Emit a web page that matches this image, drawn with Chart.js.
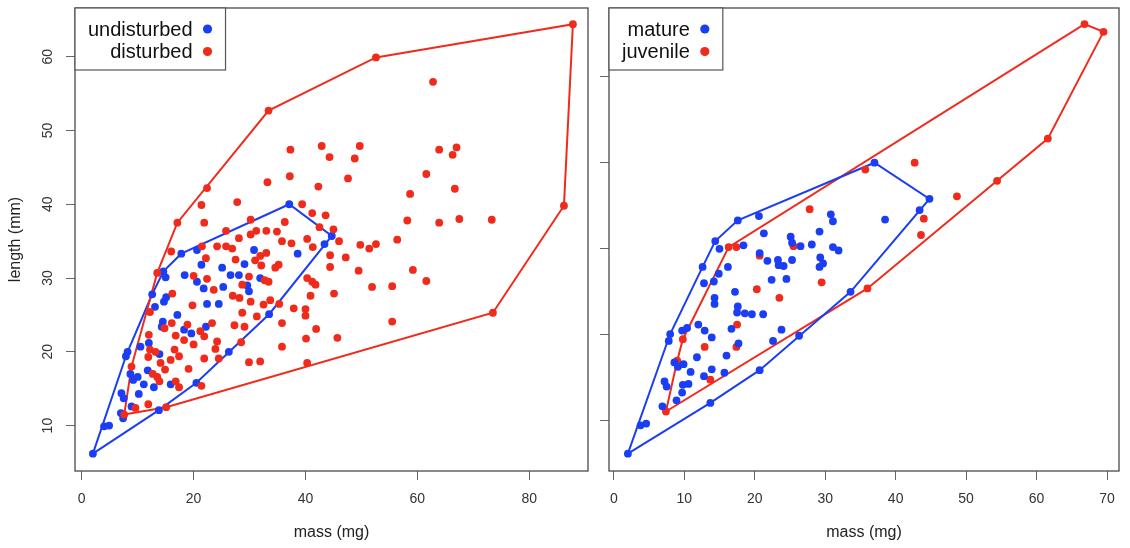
<!DOCTYPE html>
<html>
<head>
<meta charset="utf-8">
<script src="https://cdn.jsdelivr.net/npm/chart.js@4"></script>
<style>
  html, body { margin: 0; padding: 0; background: #fff; }
  #wrap { position: relative; width: 1130px; height: 548px; }
  canvas { position: absolute; top: 0; }
  #left { left: 0; }
  #right { left: 595px; }
</style>
</head>
<body>
<div id="wrap">
  <canvas id="left" width="595" height="548"></canvas>
  <canvas id="right" width="535" height="548"></canvas>
</div>
<script>
// [mass (mg), length (mm)]
const undisturbed = [
  [37.1, 40.0], [44.7, 35.7], [43.4, 34.6], [17.8, 33.3], [20.6, 33.8], [30.8, 33.8],
  [38.6, 33.3], [21.4, 31.8], [25.1, 31.4], [28.1, 30.4], [26.6, 30.4], [29.1, 31.9],
  [18.4, 30.4], [15.0, 30.1], [14.6, 30.9], [20.6, 29.5], [21.8, 28.6], [25.3, 28.8],
  [29.6, 29.0], [29.9, 28.2], [31.9, 30.0], [22.4, 26.5], [24.5, 26.5], [33.5, 25.1],
  [26.3, 20.0], [22.2, 23.4], [14.5, 24.1], [14.3, 23.4], [17.1, 25.0], [18.3, 23.0],
  [19.6, 22.5], [12.6, 27.8], [13.1, 26.1], [14.7, 26.8], [15.1, 27.4], [10.5, 20.7],
  [12.0, 21.2], [13.9, 19.7], [8.2, 20.0], [7.9, 19.4], [11.8, 17.5], [8.7, 17.0],
  [9.2, 16.2], [10.0, 16.6], [11.1, 15.6], [12.9, 15.2], [15.9, 15.6], [20.5, 15.8],
  [7.1, 14.4], [7.5, 13.7], [10.2, 14.3], [8.9, 12.6], [13.8, 12.1], [7.0, 11.7],
  [7.4, 11.0], [4.0, 9.9], [4.9, 10.0], [2.0, 6.2]
];
const disturbed = [
  [87.8, 64.4], [52.6, 59.9], [62.8, 56.6], [33.4, 52.7], [42.9, 47.9], [49.7, 47.9],
  [44.3, 46.4], [48.8, 46.2], [63.9, 47.4], [67.0, 47.7], [66.3, 46.7], [47.6, 43.5],
  [61.6, 44.1], [42.3, 42.4], [58.7, 41.4], [66.7, 42.1], [39.4, 40.0], [41.2, 38.8],
  [43.6, 38.5], [58.2, 37.8], [63.9, 37.5], [67.5, 38.0], [73.3, 37.9], [86.2, 39.8],
  [42.5, 36.9], [45.0, 36.6], [46.0, 35.0], [40.3, 35.3], [41.3, 34.2], [56.4, 35.2],
  [51.4, 34.0], [52.6, 34.6], [44.4, 33.1], [47.2, 32.8], [22.4, 42.2], [37.3, 47.4],
  [33.2, 43.0], [37.2, 43.8], [27.8, 40.3], [21.4, 39.9], [30.2, 37.9], [21.9, 37.5],
  [17.1, 37.5], [36.3, 37.6], [25.8, 36.4], [31.2, 36.4], [33.0, 36.4], [34.9, 36.3],
  [30.2, 35.9], [28.1, 35.4], [35.8, 35.0], [37.5, 34.7], [24.2, 34.3], [25.8, 34.3],
  [26.9, 34.0], [21.5, 34.3], [16.0, 33.6], [44.4, 31.5], [49.5, 31.0], [31.9, 33.0],
  [33.0, 33.4], [22.2, 32.7], [27.5, 32.5], [31.0, 32.4], [32.1, 31.7], [35.2, 31.8],
  [34.6, 31.4], [13.5, 30.7], [20.0, 30.3], [22.4, 29.9], [23.6, 28.4], [29.9, 30.2],
  [32.7, 29.7], [33.4, 29.5], [28.7, 29.1], [27.0, 27.6], [28.2, 27.3], [30.2, 26.8],
  [32.5, 26.4], [33.7, 27.0], [35.3, 26.5], [40.3, 30.0], [41.2, 29.5], [41.8, 29.1],
  [40.9, 27.6], [45.1, 27.9], [37.9, 25.9], [40.0, 25.8], [40.0, 24.9], [41.9, 23.1],
  [40.1, 21.8], [35.8, 23.9], [31.3, 24.8], [28.7, 25.3], [27.3, 23.6], [29.1, 23.4],
  [28.5, 21.3], [29.9, 18.6], [31.9, 18.7], [35.8, 20.7], [40.3, 18.5], [23.3, 23.9],
  [21.2, 22.8], [21.9, 22.1], [24.2, 21.4], [23.9, 20.4], [24.5, 19.1], [21.9, 19.1],
  [20.0, 21.0], [19.1, 17.7], [17.4, 19.4], [15.9, 18.9], [16.6, 20.3], [18.3, 21.6],
  [16.8, 22.2], [14.8, 23.2], [16.1, 23.9], [18.9, 23.7], [12.0, 22.3], [12.2, 25.4],
  [16.2, 27.9], [19.8, 26.3], [12.2, 20.3], [13.2, 20.0], [14.1, 18.5], [11.9, 19.3],
  [8.9, 18.0], [12.7, 17.0], [13.5, 16.6], [13.9, 16.0], [14.9, 17.6], [16.8, 16.0],
  [17.4, 15.2], [21.4, 15.4], [9.6, 12.4], [11.9, 12.9], [15.1, 12.5], [7.6, 11.5],
  [55.5, 28.9], [51.9, 28.8], [61.6, 29.6], [55.5, 24.1], [59.2, 31.1], [73.5, 25.3],
  [45.7, 21.9], [49.8, 34.5]
];
const mature = [
  [37.0, 40.0], [20.6, 33.8], [17.6, 33.3], [14.4, 30.9], [30.8, 34.0], [31.1, 33.2],
  [38.5, 33.4], [21.3, 31.8], [29.2, 32.0], [25.1, 31.4], [25.3, 30.7], [26.5, 30.3],
  [28.1, 30.5], [31.1, 30.2], [31.9, 29.8], [18.4, 30.4], [15.0, 30.0], [20.7, 29.5],
  [21.8, 28.6], [23.3, 28.7], [23.4, 28.1], [24.1, 28.0], [25.3, 28.7], [29.3, 29.0],
  [29.7, 28.3], [29.2, 27.9], [16.2, 27.9], [14.9, 27.1], [14.2, 26.2], [12.6, 27.9],
  [12.8, 26.0], [22.4, 26.4], [24.5, 26.5], [33.6, 25.0], [17.2, 25.0], [14.3, 24.3],
  [14.3, 23.6], [17.6, 23.3], [18.6, 22.5], [19.6, 22.4], [17.5, 22.6], [21.2, 22.4],
  [16.7, 20.7], [23.8, 20.6], [22.6, 19.3], [26.3, 19.9], [12.0, 21.2], [12.9, 20.5],
  [13.9, 19.7], [10.4, 20.8], [9.7, 20.5], [8.0, 20.1], [7.8, 19.3], [17.7, 19.0],
  [16.0, 17.6], [11.8, 17.4], [8.6, 16.8], [9.1, 16.3], [9.9, 16.6], [10.9, 15.7],
  [12.8, 15.2], [13.9, 16.0], [15.7, 15.6], [20.7, 15.9], [7.2, 14.6], [7.5, 14.0],
  [9.8, 14.2], [10.6, 14.3], [9.7, 13.3], [8.9, 12.4], [6.9, 11.7], [13.7, 12.1],
  [3.8, 9.5], [4.6, 9.7], [2.0, 6.2], [44.8, 35.8], [43.4, 34.5]
];
const juvenile = [
  [66.8, 56.1], [69.5, 55.2], [61.6, 42.8], [54.4, 37.9], [35.7, 39.2], [42.7, 40.0],
  [48.7, 36.1], [44.0, 33.5], [43.6, 31.6], [27.8, 34.6], [25.5, 30.3], [16.3, 30.2],
  [17.4, 30.2], [20.7, 29.2], [20.3, 25.3], [23.5, 24.3], [29.5, 26.1], [36.0, 25.4],
  [17.5, 21.2], [9.8, 19.5], [12.9, 18.6], [17.4, 18.6], [9.0, 17.0], [13.7, 14.8],
  [7.4, 11.1]
];

const leftMassTicks = [0, 20, 40, 60, 80];
const rightMassTicks = [0, 10, 20, 30, 40, 50, 60, 70];
const leftLengthTicks = [10, 20, 30, 40, 50, 60];
const rightLengthTicks = [10, 20, 30, 40, 50];

const BLUE = '#1b3ef4';
const RED = '#f02b1c';
const FONT = '"Liberation Sans", Arial, Helvetica, sans-serif';

// convex hull (monotone chain), closed back to the first vertex
function hull(pts) {
  const p = pts.map(([x, y]) => ({ x, y })).sort((a, b) => a.x - b.x || a.y - b.y);
  const cross = (o, a, b) => (a.x - o.x) * (b.y - o.y) - (a.y - o.y) * (b.x - o.x);
  const lower = [], upper = [];
  for (const q of p) {
    while (lower.length >= 2 && cross(lower[lower.length - 2], lower[lower.length - 1], q) <= 0) lower.pop();
    lower.push(q);
  }
  for (const q of p.slice().reverse()) {
    while (upper.length >= 2 && cross(upper[upper.length - 2], upper[upper.length - 1], q) <= 0) upper.pop();
    upper.push(q);
  }
  lower.pop(); upper.pop();
  const h = lower.concat(upper);
  h.push(h[0]);
  return h;
}

const toXY = pts => pts.map(([x, y]) => ({ x, y }));

function pointSet(pts, color) {
  return { data: toXY(pts), backgroundColor: color, borderColor: color, pointRadius: 3.9, pointBorderWidth: 0, showLine: false };
}
function hullSet(pts, color) {
  return { data: hull(pts), borderColor: color, borderWidth: 2, pointRadius: 0, showLine: true, fill: false, tension: 0 };
}

// box, rotated y labels and the legend inside the top-left corner
const frame = {
  id: 'frame',
  afterDraw(chart, args, o) {
    const { ctx, chartArea: a } = chart;
    ctx.save();
    ctx.strokeStyle = '#4a4a4a';
    ctx.lineWidth = 1.3;
    ctx.strokeRect(a.left, a.top, a.right - a.left, a.bottom - a.top);

    if (o.yLabels) {
      const ys = chart.scales.y;
      ctx.font = '14px ' + FONT;
      ctx.fillStyle = '#333';
      ctx.textAlign = 'center';
      ctx.textBaseline = 'middle';
      for (const v of o.yLabels) {
        ctx.save();
        ctx.translate(48, ys.getPixelForValue(v));
        ctx.rotate(-Math.PI / 2);
        ctx.fillText(String(v), 0, 0);
        ctx.restore();
      }
    }

    ctx.font = '20px ' + FONT;
    const tw = Math.max(...o.legend.map(e => ctx.measureText(e.text).width));
    const w = 13 + tw + 33;
    ctx.fillStyle = '#fff';
    ctx.fillRect(a.left, a.top, w, 62);
    ctx.strokeStyle = '#555';
    ctx.lineWidth = 1.2;
    ctx.strokeRect(a.left, a.top, w, 62);
    ctx.textAlign = 'right';
    ctx.textBaseline = 'middle';
    o.legend.forEach((e, i) => {
      const y = a.top + 21 + i * 22.5;
      ctx.fillStyle = '#111';
      ctx.fillText(e.text, a.left + 13 + tw, y + 1);
      ctx.fillStyle = e.color;
      ctx.beginPath();
      ctx.arc(a.left + w - 18, y, 4.6, 0, Math.PI * 2);
      ctx.fill();
    });
    ctx.restore();
  }
};

function makePanel(id, cfg) {
  const tickGrid = { drawOnChartArea: false, drawTicks: true, tickLength: 9, color: '#666', lineWidth: 1 };
  new Chart(document.getElementById(id), {
    type: 'scatter',
    data: { datasets: cfg.datasets },
    options: {
      responsive: false,
      animation: false,
      devicePixelRatio: 1,
      layout: { padding: { top: 8, right: cfg.padRight, left: 0, bottom: 0 } },
      plugins: {
        legend: { display: false },
        tooltip: { enabled: false },
        frame: { yLabels: cfg.yLabels, legend: cfg.legend }
      },
      scales: {
        x: {
          type: 'linear', min: cfg.xMin, max: cfg.xMax,
          afterBuildTicks: s => { s.ticks = cfg.xTicks.map(v => ({ value: v })); },
          grid: tickGrid,
          border: { display: false },
          ticks: { font: { size: 14, family: FONT }, color: '#333', padding: 11, maxRotation: 0 },
          title: { display: true, text: 'mass (mg)', font: { size: 16, family: FONT }, color: '#222', padding: { top: 0, bottom: 6 } },
          afterFit: s => { s.height = 77; }
        },
        y: {
          type: 'linear', min: cfg.yMin, max: cfg.yMax,
          afterBuildTicks: s => { s.ticks = cfg.yTicks.map(v => ({ value: v })); },
          grid: tickGrid,
          border: { display: false },
          ticks: { display: false },
          title: { display: !!cfg.yTitle, text: cfg.yTitle || '', font: { size: 16, family: FONT }, color: '#222', padding: { top: 6, bottom: 0 } },
          afterFit: s => { s.width = cfg.yWidth; }
        }
      }
    },
    plugins: [frame]
  });
}

makePanel('left', {
  datasets: [
    pointSet(disturbed, RED), pointSet(undisturbed, BLUE),
    hullSet(disturbed, RED), hullSet(undisturbed, BLUE)
  ],
  xMin: -1.2, xMax: 90.5, yMin: 3.85, yMax: 66.6,
  xTicks: leftMassTicks, yTicks: leftLengthTicks, yLabels: leftLengthTicks,
  yTitle: 'length (mm)', yWidth: 75, padRight: 7,
  legend: [{ text: 'undisturbed', color: BLUE }, { text: 'disturbed', color: RED }]
});

makePanel('right', {
  datasets: [
    pointSet(mature, BLUE), pointSet(juvenile, RED),
    hullSet(mature, BLUE), hullSet(juvenile, RED)
  ],
  xMin: -0.68, xMax: 71.7, yMin: 4.19, yMax: 57.97,
  xTicks: rightMassTicks, yTicks: rightLengthTicks, yLabels: null,
  yTitle: null, yWidth: 14, padRight: 11,
  legend: [{ text: 'mature', color: BLUE }, { text: 'juvenile', color: RED }]
});
</script>
</body>
</html>
